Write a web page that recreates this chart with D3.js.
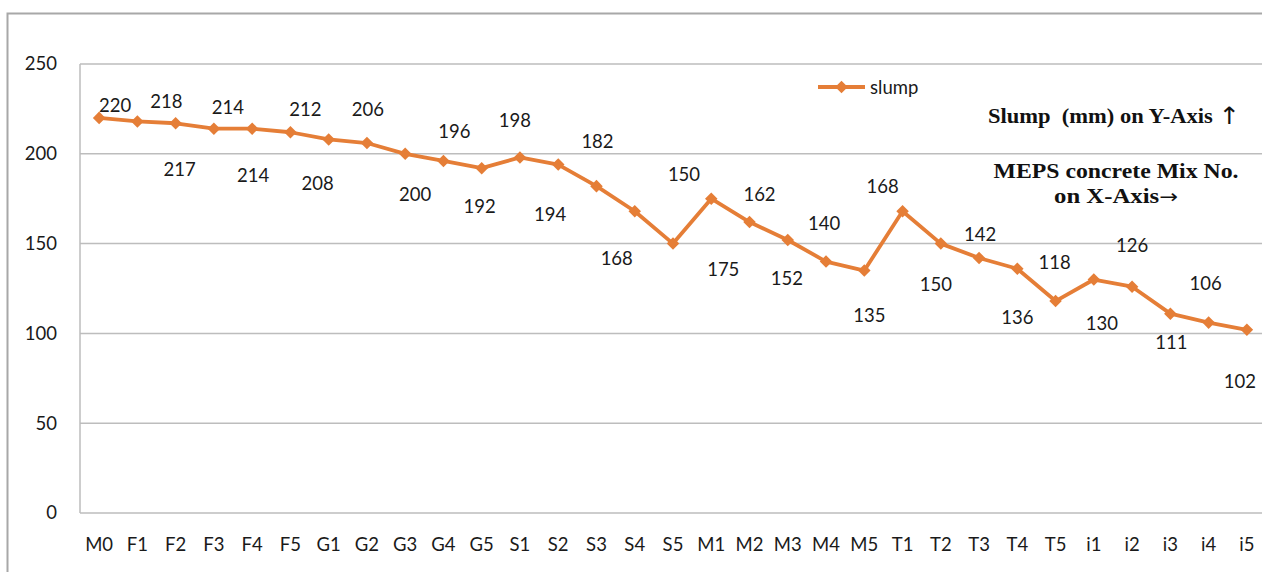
<!DOCTYPE html>
<html>
<head>
<meta charset="utf-8">
<script src="https://cdn.jsdelivr.net/npm/d3@7/dist/d3.min.js"></script>
<style>
  html, body { margin: 0; padding: 0; background: #fff; overflow: hidden; }
  svg { display: block; }
</style>
</head>
<body>
<svg id="chart" width="1262" height="572"></svg>
<script>
const categories = ["M0","F1","F2","F3","F4","F5","G1","G2","G3","G4","G5","S1","S2","S3","S4","S5","M1","M2","M3","M4","M5","T1","T2","T3","T4","T5","i1","i2","i3","i4","i5"];
const slump = [220,218,217,214,214,212,208,206,200,196,192,198,194,182,168,150,175,162,152,140,135,168,150,142,136,118,130,126,111,106,102];
const yTicks = [0,50,100,150,200,250];
const seriesName = "slump";

// manual data-label placement (offset from point, px), as in the original
const labelOffsets = [
  [16,-13],[29,-20],[4,46],[14,-22],[1,46],[15,-23],[-11,44],[1,-34],[10,40],[11,-30],
  [-2,38],[-5,-37],[-8,49],[1,-45],[-18,47],[11,-70],[12,70],[10,-28],[-1,38],[-2,-39],
  [5,44],[-20,-25],[-5,40],[1,-24],[0,48],[-1,-39],[8,43],[0,-42],[1,28],[-3,-40],[-7,51]
];

const svg = d3.select("#chart");
const W = 1262, H = 572;
const plot = {left: 80, right: 1266, top: 64, bottom: 513};
const orange = "#E57E37";
const gridColor = "#BDBDBD";
const font = "Lato, 'Open Sans', sans-serif";

// outer chart frame
svg.append("rect").attr("x", 7.5).attr("y", 13.5).attr("width", W + 20).attr("height", H + 20)
  .attr("fill", "none").attr("stroke", "#A8A8A8").attr("stroke-width", 2);

const x = d3.scaleBand().domain(categories).range([plot.left, plot.right]).padding(0);
const y = d3.scaleLinear().domain([0, 250]).range([plot.bottom, plot.top]);

// gridlines
svg.append("g").selectAll("line").data(yTicks).join("line")
  .attr("x1", plot.left).attr("x2", plot.right)
  .attr("y1", d => y(d)).attr("y2", d => y(d))
  .attr("stroke", gridColor).attr("stroke-width", 1.5);

// left plot border
svg.append("line").attr("x1", plot.left).attr("x2", plot.left)
  .attr("y1", plot.top).attr("y2", plot.bottom)
  .attr("stroke", gridColor).attr("stroke-width", 1.5);

// Y axis
const yAxis = d3.axisLeft(y).tickValues(yTicks).tickSize(0).tickPadding(0);
const gy = svg.append("g").attr("transform", `translate(${plot.left - 23},0)`).call(yAxis);
gy.select(".domain").remove();
gy.selectAll("text").attr("font-family", font).attr("font-size", 18.5).attr("fill", "#1a1a1a");

// X axis
const xAxis = d3.axisBottom(x).tickSize(0).tickPadding(0);
const gx = svg.append("g").attr("transform", `translate(0,${plot.bottom + 25})`).call(xAxis);
gx.select(".domain").remove();
gx.selectAll("text").attr("font-family", font).attr("font-size", 18.5).attr("fill", "#1a1a1a");

const cx = (d, i) => x(categories[i]) + x.bandwidth() / 2;

// line
const line = d3.line().x((d, i) => cx(d, i)).y(d => y(d));
svg.append("path").datum(slump).attr("d", line)
  .attr("fill", "none").attr("stroke", orange).attr("stroke-width", 3.8).attr("stroke-linejoin", "round");

// markers
const diamond = d3.symbol().type(d3.symbolDiamond2).size(100);
svg.append("g").selectAll("path").data(slump).join("path")
  .attr("d", diamond)
  .attr("transform", (d, i) => `translate(${cx(d, i)},${y(d)})`)
  .attr("fill", orange);

// data labels
svg.append("g").selectAll("text").data(slump).join("text")
  .attr("x", (d, i) => cx(d, i) + labelOffsets[i][0])
  .attr("y", (d, i) => y(d) + labelOffsets[i][1])
  .attr("text-anchor", "middle").attr("dominant-baseline", "central")
  .attr("font-family", font).attr("font-size", 18.5).attr("fill", "#1a1a1a")
  .text(d => d);

// legend
const lg = svg.append("g").attr("transform", "translate(818,87)");
lg.append("line").attr("x1", 0).attr("x2", 47).attr("y1", 0).attr("y2", 0)
  .attr("stroke", orange).attr("stroke-width", 3.8);
lg.append("path").attr("d", diamond).attr("transform", "translate(23.5,0)").attr("fill", orange);
lg.append("text").attr("x", 52).attr("y", 0).attr("dominant-baseline", "central")
  .attr("font-family", font).attr("font-size", 18.5).attr("fill", "#1a1a1a").text(seriesName);

// annotations
const serif = "'Liberation Serif', 'DejaVu Serif', serif";
function note(txt, arrow, xPos, yPos, anchor, len, arrowSize) {
  const t = svg.append("text").attr("x", xPos).attr("y", yPos).attr("text-anchor", anchor)
    .attr("dominant-baseline", "central").attr("font-family", serif).attr("font-weight", "bold")
    .attr("font-size", 21).attr("fill", "#111").attr("xml:space", "preserve")
    .attr("textLength", len).attr("lengthAdjust", "spacingAndGlyphs");
  t.append("tspan").text(txt);
  t.append("tspan").attr("font-family", "'DejaVu Sans', sans-serif").attr("font-weight", "normal")
    .attr("font-size", arrowSize).text(arrow);
}
note("Slump  (mm) on Y-Axis ", "\u2191", 1240, 116, "end", 252, 24);
note("MEPS concrete Mix No.", "", 1116, 171, "middle", 245, 21);
note("on X-Axis", "\u2192", 1116, 196, "middle", 124, 19);
</script>
</body>
</html>
